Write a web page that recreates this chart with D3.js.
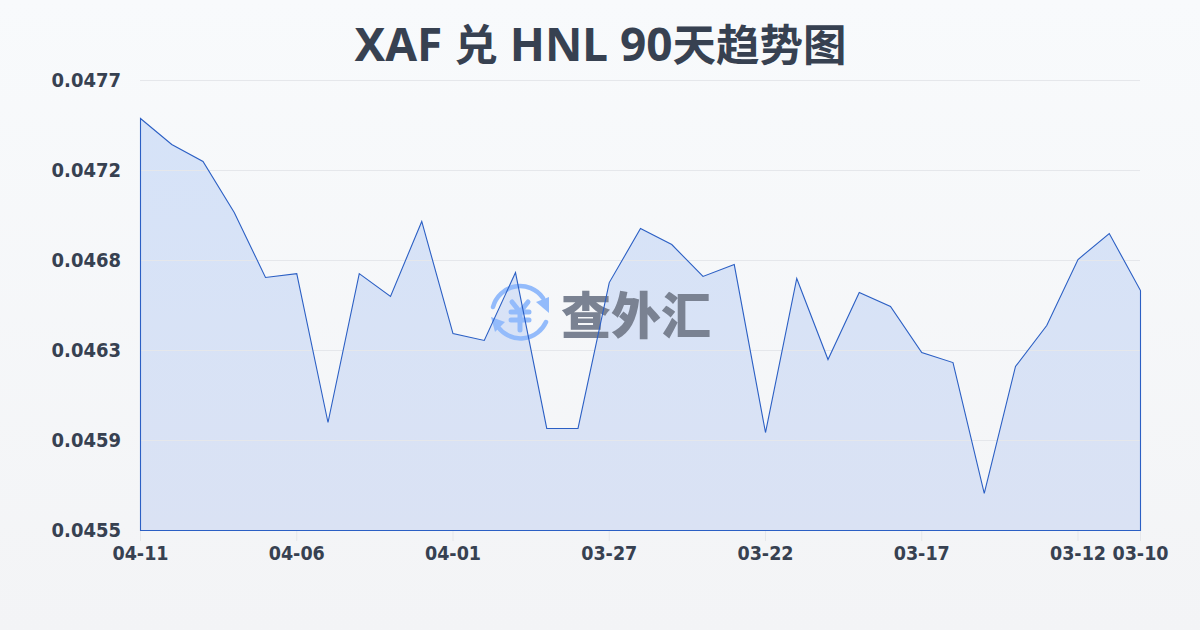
<!DOCTYPE html>
<html><head><meta charset="utf-8">
<script src="https://cdn.jsdelivr.net/npm/d3@7/dist/d3.min.js"></script>
<style>html,body{margin:0;padding:0;background:#f8fafc}svg{display:block}</style>
</head><body><div id="c"></div>
<script>
const titleParts = [["XAF ","lat"],["兑","cjk"],[" HNL 90","lat"],["天趋势图","cjk"]];
const watermarkText = "查外汇";
const xLabels = ["04-11","04-06","04-01","03-27","03-22","03-17","03-12","03-10"];
const xLabelIndex = [0,5,10,15,20,25,30,32];
const yLabels = ["0.0477","0.0472","0.0468","0.0463","0.0459","0.0455"];
const yTicks = [0.0477,0.04726,0.04682,0.04638,0.04594,0.0455];
const rates = [0.047514,0.047387,0.047304,0.047055,0.046737,0.046756,0.046028,0.046756,0.046644,0.047011,0.046463,0.046429,0.046761,0.045999,0.045999,0.046712,0.046976,0.046898,0.046742,0.046800,0.045979,0.046732,0.046336,0.046664,0.046595,0.046370,0.046321,0.045681,0.046302,0.046502,0.046825,0.046952,0.046673];

const W=1200,H=630;
const svg=d3.select("#c").append("svg").attr("width",W).attr("height",H);
const defs=svg.append("defs");
const bg=defs.append("linearGradient").attr("id","bg").attr("x1",0).attr("x2",0).attr("y1",0).attr("y2",1);
bg.append("stop").attr("offset",0).attr("stop-color","#f8fafc");
bg.append("stop").attr("offset",1).attr("stop-color","#f3f4f6");
const ag=defs.append("linearGradient").attr("id","ag").attr("gradientUnits","userSpaceOnUse").attr("x1",0).attr("x2",0).attr("y1",118).attr("y2",530);
ag.append("stop").attr("offset",0).attr("stop-color","#d6e3f8");
ag.append("stop").attr("offset",1).attr("stop-color","#dae2f4");
svg.append("rect").attr("width",W).attr("height",H).attr("fill","url(#bg)");

const x=d3.scaleLinear().domain([0,rates.length-1]).range([140.5,1140.5]);
const y=d3.scaleLinear().domain([0.0455,0.0477]).range([530.5,80.5]);
const font="'DejaVu Sans Condensed','DejaVu Sans',sans-serif";
const ink="#374151";

const title=svg.append("text").attr("x",600.5).attr("y",61).attr("text-anchor","middle").attr("font-weight",700).attr("fill",ink).style("white-space","pre");
title.selectAll("tspan").data(titleParts).join("tspan")
  .attr("font-family",d=>d[1]==="lat"?"'Noto Sans',sans-serif":"'Noto Sans CJK SC',sans-serif")
  .attr("font-size",d=>d[1]==="lat"?46:43.5).text(d=>d[0]);

const area=d3.area().x((d,i)=>x(i)).y0(y(0.0455)).y1(d=>y(d));
svg.append("path").datum(rates).attr("d",area).attr("fill","url(#ag)");

svg.append("g").selectAll("line").data(yTicks.slice(0,-1)).join("line")
  .attr("x1",140).attr("x2",1140).attr("y1",d=>y(d)).attr("y2",d=>y(d)).attr("stroke","#e5e7eb").attr("stroke-width",1);
svg.append("g").selectAll("text").data(yTicks).join("text")
  .attr("x",121).attr("y",d=>y(d)+6).attr("text-anchor","end")
  .attr("font-family",font).attr("font-weight",700).attr("font-size",20).attr("fill",ink)
  .text((d,i)=>yLabels[i]);

const wm=svg.append("g");
const blue="#93bbfb";
wm.append("path").attr("d","M493 307 A28 28 0 0 1 543 298").attr("fill","none").attr("stroke",blue).attr("stroke-width",4.5).attr("stroke-linecap","round");
wm.append("path").attr("d","M546 322 A28 28 0 0 1 498 327").attr("fill","none").attr("stroke",blue).attr("stroke-width",4.5).attr("stroke-linecap","round");
wm.append("path").attr("d","M549 297 L549 313 L536 302 Z").attr("fill",blue);
wm.append("path").attr("d","M491 317 L505 322 L495 332 Z").attr("fill",blue);
wm.append("path").attr("d","M512 302 L520 312 L528 302 M511 312 H529 M511 320 H529 M520 312 V330").attr("fill","none").attr("stroke",blue).attr("stroke-width",5).attr("stroke-linecap","round");
wm.append("text").attr("x",636).attr("y",334).attr("text-anchor","middle").attr("font-family","'Noto Sans CJK SC',sans-serif").attr("font-weight",900).attr("font-size",50).attr("fill","#7a8292").text(watermarkText);

svg.append("path").datum(rates).attr("d",area).attr("fill","none").attr("stroke","#2b5fc4").attr("stroke-width",1.1);

svg.append("g").selectAll("line").data(xLabelIndex).join("line")
  .attr("x1",d=>x(d)).attr("x2",d=>x(d)).attr("y1",531).attr("y2",541).attr("stroke","#e5e7eb");
svg.append("g").selectAll("text").data(xLabelIndex).join("text")
  .attr("x",d=>x(d)).attr("y",560).attr("text-anchor","middle")
  .attr("font-family",font).attr("font-weight",700).attr("font-size",19.5).attr("fill",ink)
  .text((d,i)=>xLabels[i]);
</script></body></html>
